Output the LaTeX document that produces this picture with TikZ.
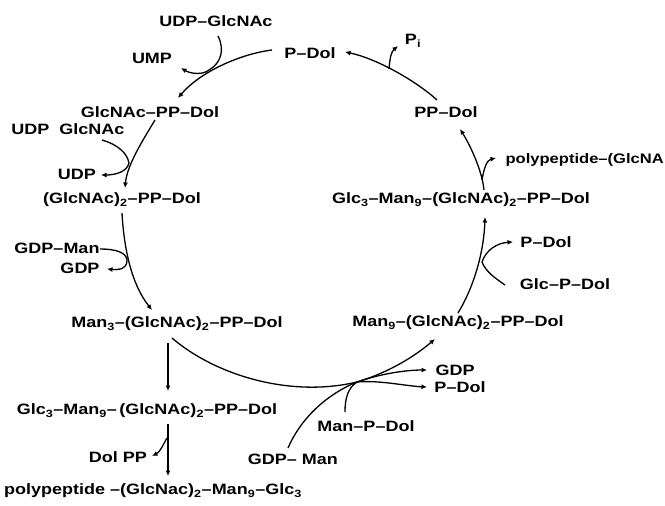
\documentclass[tikz,border=0pt]{standalone}
\usepackage{fontspec}
\setmainfont{Liberation Sans}[FakeStretch=1.2]
\usetikzlibrary{arrows.meta}
\begin{document}
\begin{tikzpicture}[x=1pt,y=-1pt,
  lab/.style={font=\bfseries\fontsize{15}{17}\selectfont, inner sep=0pt},
  ln/.style={line width=1.3pt},
  arr/.style={line width=1.3pt, -{Latex[length=5.5pt,width=5pt]}}]
\useasboundingbox (0,0) rectangle (665,506);
\fill[white] (0,0) rectangle (665,506);
% labels
\node[lab] (udpglc) at (216,21) {UDP–GlcNAc};
\node[lab] (ump) at (152,58) {UMP};
\node[lab] (pdol) at (310,53) {P–Dol};
\node[lab] (pi) at (413,41) {P\textsubscript{i}};
\node[lab] (ppdol) at (446,112) {PP–Dol};
\node[lab,anchor=east,font=\bfseries\fontsize{13.8}{16}\selectfont] (poly) at (664,160) {polypeptide–(GlcNA};
\node[lab] (g3m9r) at (461,200) {Glc\textsubscript{3}–Man\textsubscript{9}–(GlcNAc)\textsubscript{2}–PP–Dol};
\node[lab] (pdolb) at (546,242) {P–Dol};
\node[lab] (glcpdol) at (565,284) {Glc–P–Dol};
\node[lab] (m9) at (458,323) {Man\textsubscript{9}–(GlcNAc)\textsubscript{2}–PP–Dol};
\node[lab] (gdpc) at (455,370) {GDP};
\node[lab] (pdolc) at (460,387) {P–Dol};
\node[lab] (manpdol) at (366,426) {Man–P–Dol};
\node[lab] (gdpmanb) at (293,459) {GDP– Man};
\node[lab] (g1pp) at (150,112) {GlcNAc–PP–Dol};
\node[lab] (udpglcb) at (68,129) {UDP\ \ GlcNAc};
\node[lab] (udp) at (77,174) {UDP};
\node[lab] (g2pp) at (122,200) {(GlcNAc)\textsubscript{2}–PP–Dol};
\node[lab] (gdpman) at (57,248) {GDP–Man};
\node[lab] (gdp) at (80,268) {GDP};
\node[lab] (m3) at (177,324) {Man\textsubscript{3}–(GlcNAc)\textsubscript{2}–PP–Dol};
\node[lab] (g3m9l) at (147,411) {Glc\textsubscript{3}–Man\textsubscript{9}–\,(GlcNAc)\textsubscript{2}–PP–Dol};
\node[lab] (dolpp) at (118,457) {Dol\ PP};
\node[lab] (polyb) at (153,491) {polypeptide\ –(GlcNac)\textsubscript{2}–Man\textsubscript{9}–Glc\textsubscript{3}};
% coordinates
\coordinate (a1) at (272,50);  \coordinate (a2) at (178,98);
\coordinate (u1) at (218,36);  \coordinate (u2) at (209,70); \coordinate (u3) at (181,68);
\coordinate (b1) at (437,100); \coordinate (b2) at (345,52);
\coordinate (p1) at (389,69);  \coordinate (p2) at (398,46);
\coordinate (c1) at (484,190); \coordinate (c2) at (460,129);
\coordinate (q1) at (482,180); \coordinate (q2) at (496,158);
\coordinate (d1) at (458,313); \coordinate (d2) at (485,217);
\coordinate (dj) at (482,262); \coordinate (d3) at (513,242); \coordinate (d4) at (505,285);
\coordinate (e1) at (172,338); \coordinate (ej) at (357,382); \coordinate (e2) at (435,339);
\coordinate (e3) at (427,370); \coordinate (e4) at (427,387);
\coordinate (e5) at (288,448); \coordinate (e6) at (345,412);
\coordinate (f1) at (155,120); \coordinate (f2) at (125,188);
\coordinate (fj) at (129,163); \coordinate (f3) at (102,140); \coordinate (f4) at (101,175);
\coordinate (g1) at (122,213); \coordinate (g2) at (152,310);
\coordinate (gj) at (127,260); \coordinate (g3) at (100,249); \coordinate (g4) at (107,269);
\coordinate (h1) at (168,343); \coordinate (h2) at (168,391);
\coordinate (k1) at (168,424); \coordinate (k2) at (168,476);
\coordinate (k3) at (167,438); \coordinate (k4) at (152,456);
% main cycle
\draw[arr] (a1) .. controls (240,54) and (200,72) .. (a2);
\draw[ln] (u1) .. controls (225,50) and (221,63) .. (u2);
\draw[arr] (u2) .. controls (203,75) and (191,74) .. (u3);
\draw[arr] (b1) .. controls (415,80) and (375,58) .. (b2);
\draw[arr] (p1) .. controls (390,58) and (391,52) .. (p2);
\draw[arr] (c1) .. controls (482,170) and (470,145) .. (c2);
\draw[arr] (q1) .. controls (484,168) and (487,160) .. (q2);
\draw[arr] (d1) .. controls (475,285) and (484,250) .. (d2);
\draw[arr] (dj) .. controls (486,250) and (497,243) .. (d3);
\draw[ln] (d4) .. controls (495,278) and (486,272) .. (dj);
\draw[ln] (e1) .. controls (215,375) and (290,398) .. (ej);
\draw[arr] (ej) .. controls (390,372) and (415,356) .. (e2);
\draw[arr] (ej) .. controls (380,374) and (405,370) .. (e3);
\draw[arr] (ej) .. controls (380,380) and (405,386) .. (e4);
\draw[ln] (e5) .. controls (300,420) and (325,395) .. (ej);
\draw[ln] (e6) .. controls (345,398) and (348,388) .. (ej);
\draw[arr] (f1) .. controls (143,140) and (127,165) .. (f2);
\draw[ln] (f3) .. controls (116,144) and (127,152) .. (fj);
\draw[arr] (fj) .. controls (127,172) and (115,175) .. (f4);
\draw[arr] (g1) .. controls (124,250) and (132,285) .. (g2);
\draw[ln] (g3) .. controls (115,249) and (126,252) .. (gj);
\draw[arr] (gj) .. controls (127,270) and (118,270) .. (g4);
\draw[arr] (h1) -- (h2);
\draw[arr] (k1) -- (k2);
\draw[arr] (k3) .. controls (163,445) and (160,452) .. (k4);
\end{tikzpicture}
\end{document}
